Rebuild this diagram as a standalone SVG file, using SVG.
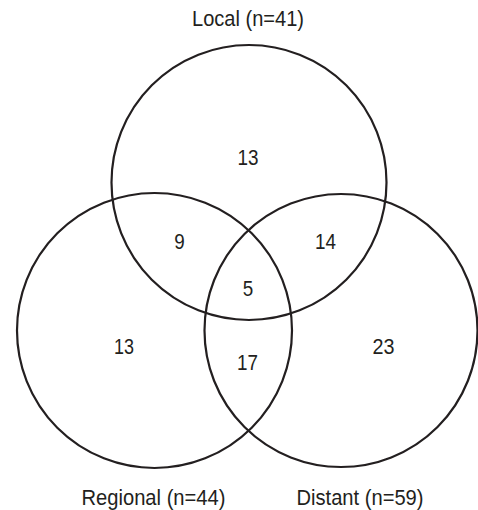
<svg xmlns="http://www.w3.org/2000/svg" width="478" height="510" viewBox="0 0 478 510">
<style>
.c{fill:none;stroke:#231f20;stroke-width:2.2}
text{font-family:"Liberation Sans",sans-serif;font-size:22px;fill:#231f20;text-anchor:middle}
</style>
<rect width="478" height="510" fill="#fff"/>
<g id="local"><circle class="c" cx="249" cy="182.5" r="137.5"/><text x="248" y="26" textLength="112" lengthAdjust="spacingAndGlyphs">Local (n=41)</text></g>
<g id="regional"><circle class="c" cx="154.5" cy="330.5" r="137.5"/><text x="153.5" y="505" textLength="144" lengthAdjust="spacingAndGlyphs">Regional (n=44)</text></g>
<g id="distant"><circle class="c" cx="341" cy="330.5" r="136.5"/><text x="360" y="505" textLength="127" lengthAdjust="spacingAndGlyphs">Distant (n=59)</text></g>
<g id="counts">
<text x="248" y="165" textLength="21" lengthAdjust="spacingAndGlyphs">13</text>
<text x="179.5" y="249" textLength="10.5" lengthAdjust="spacingAndGlyphs">9</text>
<text x="325.5" y="249" textLength="21" lengthAdjust="spacingAndGlyphs">14</text>
<text x="248" y="296" textLength="10.5" lengthAdjust="spacingAndGlyphs">5</text>
<text x="124" y="354" textLength="20" lengthAdjust="spacingAndGlyphs">13</text>
<text x="247.5" y="370" textLength="21" lengthAdjust="spacingAndGlyphs">17</text>
<text x="383.5" y="354" textLength="22" lengthAdjust="spacingAndGlyphs">23</text>
</g>
</svg>
